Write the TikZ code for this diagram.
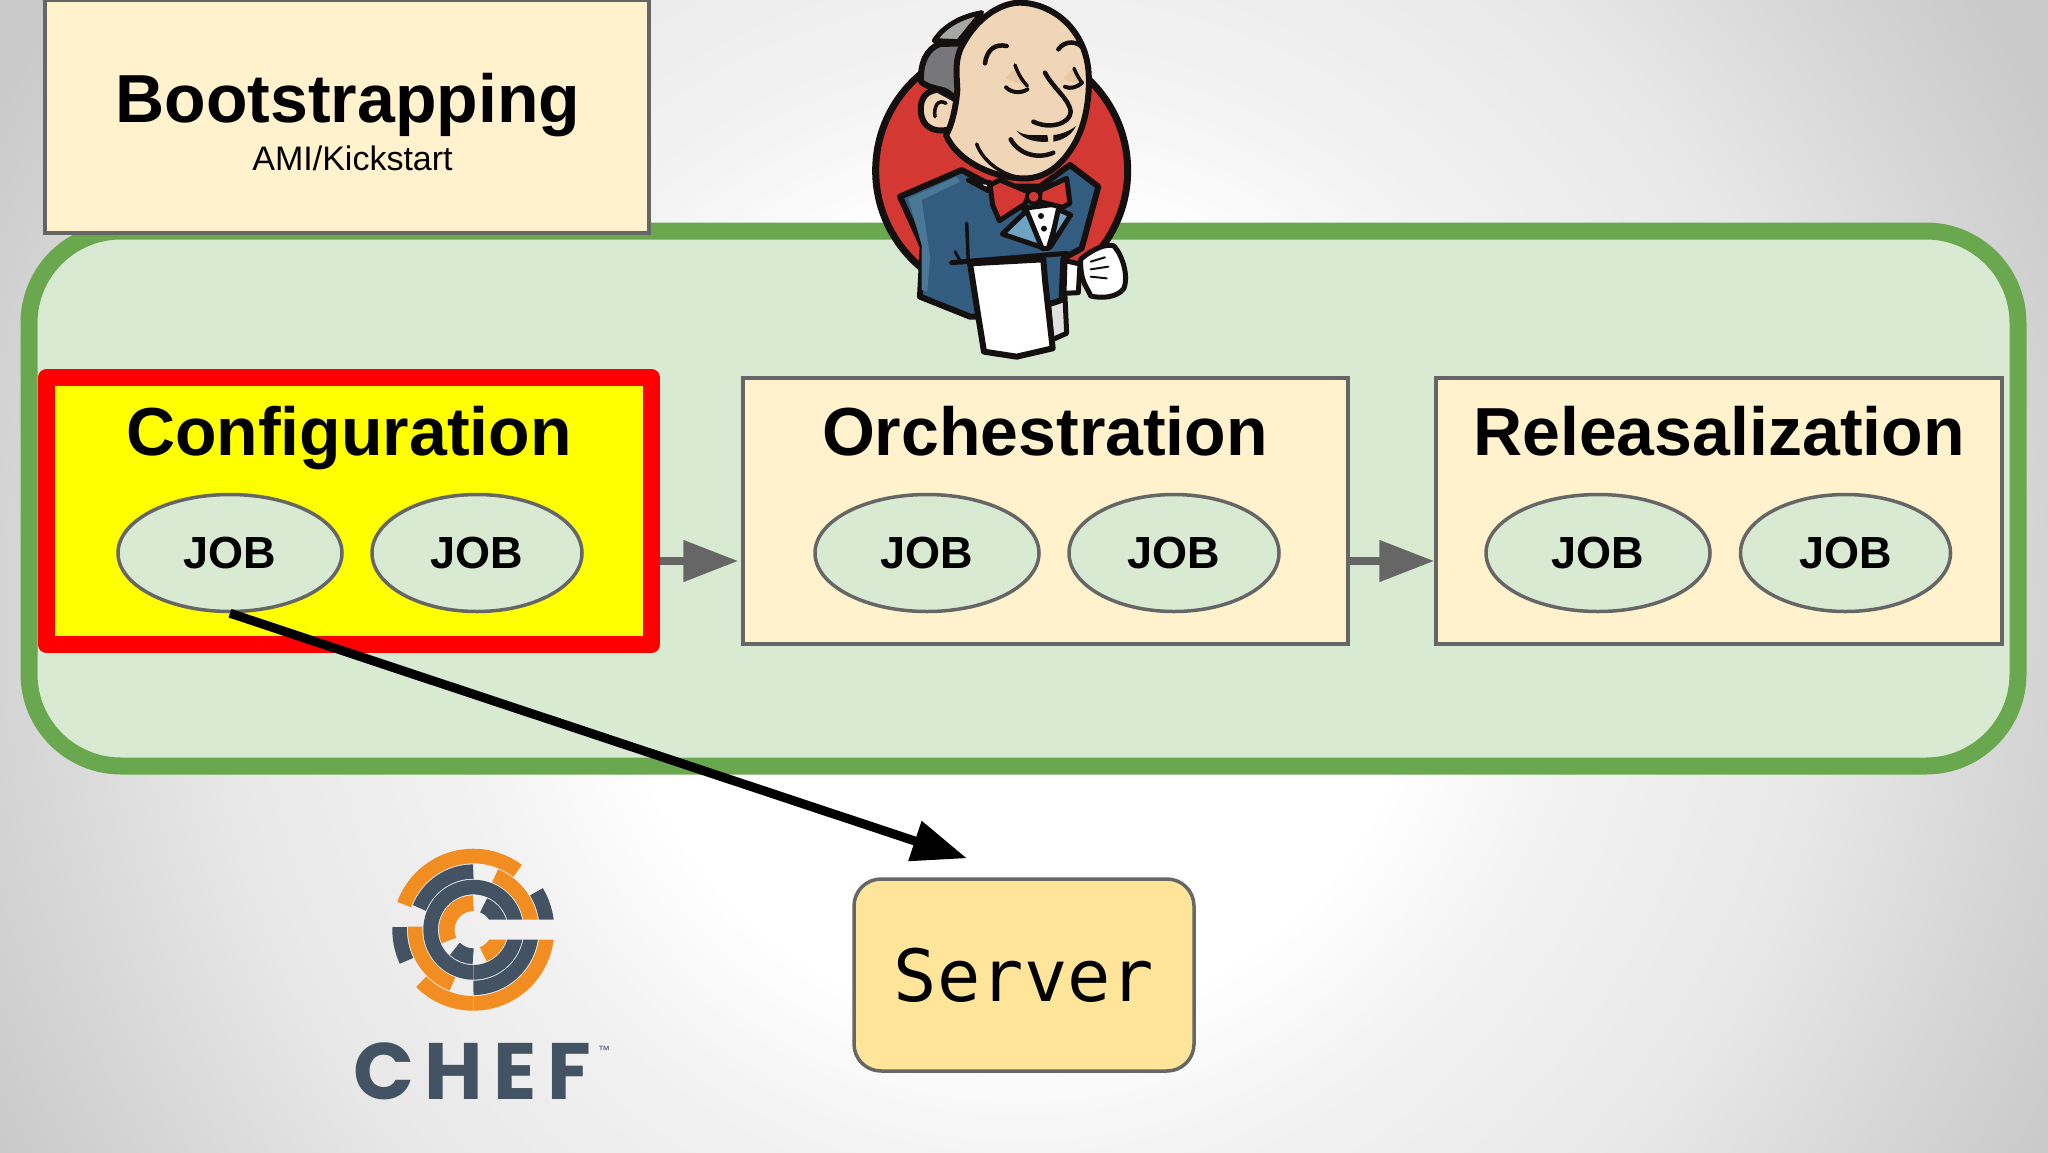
\documentclass[tikz,border=0pt]{standalone}
\usepackage{fontspec}
\usetikzlibrary{shapes.geometric,arrows.meta}
\setmainfont{Liberation Sans}
\newfontfamily\servermono{DejaVu Sans Mono}
\newfontfamily\cheflogo[LetterSpace=13]{Poppins}
\definecolor{panelgreen}{HTML}{D9EAD3}
\definecolor{edgegreen}{HTML}{6AA84F}
\definecolor{cream}{HTML}{FFF2CC}
\definecolor{edgegray}{HTML}{666666}
\definecolor{servfill}{HTML}{FFE599}
\definecolor{purered}{HTML}{FF0000}
\definecolor{pureyellow}{HTML}{FFFF00}
\definecolor{jred}{HTML}{D33833}
\definecolor{jskin}{HTML}{F0D6B7}
\definecolor{jshade}{HTML}{E8C8A4}
\definecolor{jcoat}{HTML}{335D80}
\definecolor{jcoatl}{HTML}{4A7896}
\definecolor{jlapel}{HTML}{6FA3C4}
\definecolor{jhair}{HTML}{77777A}
\definecolor{jhairl}{HTML}{A6A6A6}
\definecolor{jink}{HTML}{14100F}
\definecolor{chefo}{HTML}{F18D21}
\definecolor{chefd}{HTML}{435363}
\pgfdeclareradialshading{slidebg}{\pgfpoint{0bp}{0bp}}{%
  color(0bp)=(white); color(7.7bp)=(white); color(10.8bp)=(black!5); color(15.4bp)=(black!9); color(19.2bp)=(black!16); color(22.1bp)=(black!21); color(50bp)=(black!21)}
\newcommand{\chefband}[5]{%
  \pgfmathsetlengthmacro{\bandw}{(#3-#2)/3}%
  \pgfmathsetmacro{\bandr}{(#3+#2)/2}%
  \draw[#1,line width=\bandw] (#4:\bandr) arc[start angle=#4,end angle=#5,radius=\bandr];}
\tikzset{
  container/.style={draw=edgegreen,fill=panelgreen,line width=17pt,rounded corners=92pt,minimum width=1989pt,minimum height=535pt,inner sep=0pt},
  creambox/.style={draw=edgegray,fill=cream,line width=3.5pt,inner sep=0pt},
  activebox/.style={draw=purered,fill=pureyellow,line width=17pt,line join=round,inner sep=0pt},
  jobnode/.style={ellipse,draw=edgegray,fill=panelgreen,line width=3.5pt,inner sep=0pt,minimum height=117pt,font=\fontsize{45}{50}\selectfont\bfseries},
  title/.style={anchor=base,inner sep=0pt,font=\fontsize{68}{75}\selectfont\bfseries},
  flowarrow/.style={draw=edgegray,line width=8pt,-{Triangle[length=55pt,width=40pt]}},
  callarrow/.style={draw=black,line width=9pt,-{Triangle[length=55pt,width=40pt]}},
  ink/.style={draw=jink,line join=round,line cap=round,line width=5pt},
  inkthin/.style={draw=jink,line cap=round,line width=3.5pt},
}
\begin{document}
\begin{tikzpicture}[x=1pt,y=-1pt]
\useasboundingbox (0,0) rectangle (2048,1152);
\begin{scope}
  \clip (0,0) rectangle (2048,1152);
  \shade[shading=slidebg] (-280,-680) rectangle (2320,1920);
\end{scope}

\node[container] (main) at (1023.5,498.5) {};

\node[creambox,minimum width=604pt,minimum height=233pt] (boot) at (347,116.5) {};
\node[title] (boottitle) at (348,122) {Bootstrapping};
\node[anchor=base,inner sep=0pt,font=\fontsize{34}{38}\selectfont] (bootsub) at (352.5,170) {AMI/Kickstart};

\node[activebox,minimum width=605pt,minimum height=267pt] (cfg) at (349,511) {};
\node[title] (cfgtitle) at (349,455) {Configuration};
\node[jobnode,minimum width=224pt] (job1) at (230,553) {JOB};
\node[jobnode,minimum width=210pt] (job2) at (477,553) {JOB};

\node[creambox,minimum width=605pt,minimum height=266pt] (orch) at (1045.5,511) {};
\node[title] (orchtitle) at (1045,455) {Orchestration};
\node[jobnode,minimum width=224pt] (job3) at (927,553) {JOB};
\node[jobnode,minimum width=210pt] (job4) at (1174,553) {JOB};

\node[creambox,minimum width=566pt,minimum height=266pt] (rel) at (1719,511) {};
\node[title] (reltitle) at (1719,455) {Releasalization};
\node[jobnode,minimum width=224pt] (job5) at (1598,553) {JOB};
\node[jobnode,minimum width=210pt] (job6) at (1845.5,553) {JOB};

\draw[flowarrow,shorten >=3pt] (cfg.east |- 0,561) -- (orch.west |- 0,561);
\draw[flowarrow] (orch.east |- 0,561) -- (rel.west |- 0,561);

% Jenkins butler
\begin{scope}[shift={(840,0)},x=1/3 pt,y=-1/3 pt]
  % red disc
  \draw[ink,fill=jred,line width=7pt] (485,512) circle[radius=378];
  % strip of apron behind
  \draw[ink,fill=white!88!black] (625,900) -- (675,890) -- (680,1000) -- (635,1020) -- cycle;
  % coat
  \draw[ink,fill=jcoat,line width=6pt] (180,590) -- (365,510) -- (460,560) -- (600,560) -- (690,495) -- (775,560) -- (725,745) -- (670,775) -- (665,900) -- (620,915) -- (420,950) -- (390,950) -- (240,890) -- (248,740) -- cycle;
  \fill[jcoatl] (205,595) -- (350,530) -- (360,545) -- (245,600) -- (270,770) -- (262,875) -- (245,870) -- (245,735) -- cycle;
  \draw[ink,line width=3.5pt] (380,670) -- (385,790);
  % collar, shirt, lapels
  \draw[ink,fill=white] (385,540) -- (450,548) -- (445,572) -- cycle;
  \draw[ink,fill=white] (550,625) -- (665,610) -- (625,745) -- (605,745) -- cycle;
  \fill[jink] (603,648) circle[radius=9] (612,686) circle[radius=9];
  \draw[ink,fill=jlapel] (487,702) -- (560,632) -- (605,742) -- cycle;
  \draw[ink,fill=jlapel] (630,742) -- (655,628) -- (692,645) -- cycle;
  % bow tie
  \draw[ink,fill=jred] (450,555) -- (480,540) -- (570,578) -- (555,612) -- (478,662) -- (458,615) -- cycle;
  \draw[ink,fill=jred] (600,572) -- (680,535) -- (690,610) -- (668,622) -- (598,605) -- cycle;
  \draw[ink,fill=jred,line width=3.5pt] (581,590) circle[radius=20];
  % belt of apron
  \draw[ink,line width=5pt] (335,788) -- (680,760);
  \draw[ink,line width=3pt] (345,755) -- (365,790);
  % apron
  \draw[ink,fill=white,line width=6pt] (390,790) -- (610,778) -- (615,840) -- (638,1045) -- (530,1070) -- (432,1055) -- (415,950) -- cycle;
  % sleeve stripe, cuff, glove
  \draw[ink,fill=white] (675,782) -- (720,792) -- (715,878) -- (672,880) -- cycle;
  \draw[ink,fill=white,line width=5pt] (722,778) .. controls (760,745) and (800,730) .. (822,738) .. controls (850,770) and (865,830) .. (852,865) .. controls (830,895) and (780,895) .. (752,888) .. controls (745,865) and (720,850) .. (722,778) -- cycle;
  \draw[inkthin,line width=2pt] (752,785) -- (795,772) (752,808) -- (805,800) (752,830) -- (800,835);
  % ear
  \draw[ink,fill=jskin,line width=6pt] (295,270) .. controls (250,270) and (235,310) .. (245,350) .. controls (255,390) and (300,400) .. (335,385) -- (350,300) -- cycle;
  \draw[inkthin] (318,310) .. controls (295,295) and (280,320) .. (285,350);
  % hair
  \draw[ink,fill=jhair,line width=6pt] (243,245) .. controls (240,190) and (260,145) .. (300,132) -- (375,130) -- (375,200) -- (360,305) -- (320,275) .. controls (300,265) and (265,265) .. (243,245) -- cycle;
  \draw[ink,fill=jhairl,line width=5pt] (283,122) .. controls (310,80) and (360,50) .. (425,38) -- (355,125) -- cycle;
  % head
  \draw[ink,fill=jskin,line width=6pt] (360,150) .. controls (410,45) and (490,8) .. (540,8) .. controls (640,10) and (738,90) .. (746,220) .. controls (750,300) and (735,385) .. (695,445) .. controls (660,500) and (610,540) .. (540,535) .. controls (450,530) and (350,480) .. (318,405) .. controls (340,370) and (350,300) .. (352,270) .. controls (350,220) and (345,190) .. (360,150) -- cycle;
  % cheeks
  \fill[jshade] (520,210) .. controls (535,225) and (555,245) .. (560,258) .. controls (535,250) and (510,240) .. (495,235) -- cycle;
  \fill[jshade] (695,210) .. controls (715,225) and (730,240) .. (722,245) .. controls (700,250) and (680,245) .. (672,235) -- cycle;
  % brows, eyes, nose
  \draw[inkthin,line width=4.5pt] (435,190) .. controls (440,150) and (465,130) .. (500,138);
  \draw[inkthin,line width=4.5pt] (655,148) .. controls (675,120) and (715,120) .. (735,152);
  \draw[inkthin] (525,195) .. controls (535,225) and (550,245) .. (562,258);
  \draw[inkthin,line width=4pt] (498,262) .. controls (515,280) and (545,280) .. (562,268);
  \draw[inkthin] (702,205) .. controls (710,225) and (720,240) .. (726,248);
  \draw[inkthin,line width=4pt] (675,260) .. controls (690,268) and (712,262) .. (726,248);
  \draw[inkthin,line width=4.5pt] (615,218) .. controls (640,265) and (690,300) .. (692,335) .. controls (692,370) and (630,390) .. (580,365);
  % moustache and mouth
  \fill[jink] (530,392) .. controls (555,410) and (590,405) .. (622,405) -- (625,425) .. controls (590,428) and (550,420) .. (530,392) -- cycle;
  \fill[jink] (640,405) .. controls (665,403) and (690,392) .. (708,378) .. controls (695,405) and (670,420) .. (640,425) -- cycle;
  \draw[inkthin,line width=4.5pt] (512,418) .. controls (535,460) and (590,480) .. (640,458);
  \draw[inkthin] (410,432) .. controls (425,475) and (470,515) .. (525,530);
\end{scope}

% Chef logo
\begin{scope}[shift={(473.3,929.7)},x=1/3 pt,y=1/3 pt]
  \clip (-300,-300) rectangle (0,300) (-1,30) rectangle (300,300) (-1,-30) rectangle (300,-300);
  \chefband{chefo}{199}{243}{53}{160}
  \chefband{chefd}{199}{243}{5}{31}
  \chefband{chefd}{199}{243}{178}{205}
  \chefband{chefo}{199}{243}{225}{355}
  \chefband{chefd}{153}{196}{90}{158}
  \chefband{chefo}{153}{196}{5}{68}
  \chefband{chefo}{153}{196}{177}{249}
  \chefband{chefd}{153}{196}{270}{355}
  \chefband{chefd}{106}{150}{-5}{365}
  \chefband{chefo}{56}{103}{90}{204}
  \chefband{chefd}{56}{103}{5}{67}
  \chefband{chefd}{56}{103}{226}{270}
  \chefband{chefo}{56}{103}{-68}{-5}
\end{scope}
\node[anchor=base west,inner sep=0pt,text=chefd,font=\cheflogo\fontsize{80}{84}\selectfont\bfseries] (cheftext) at (353,1099) {CHEF};
\node[anchor=base west,inner sep=0pt,text=chefd,font=\fontsize{12}{13}\selectfont] (chefmark) at (598,1054) {™};

% Server
\node[draw=edgegray,fill=servfill,line width=3.5pt,rounded corners=27pt,minimum width=340pt,minimum height=192pt,inner sep=0pt,font=\servermono\fontsize{72}{80}\selectfont] (server) at (1024,975) {\raisebox{-7pt}{Server}};
\draw[callarrow,shorten >=60pt] (job1.south) -- (server.north);
\end{tikzpicture}
\end{document}
